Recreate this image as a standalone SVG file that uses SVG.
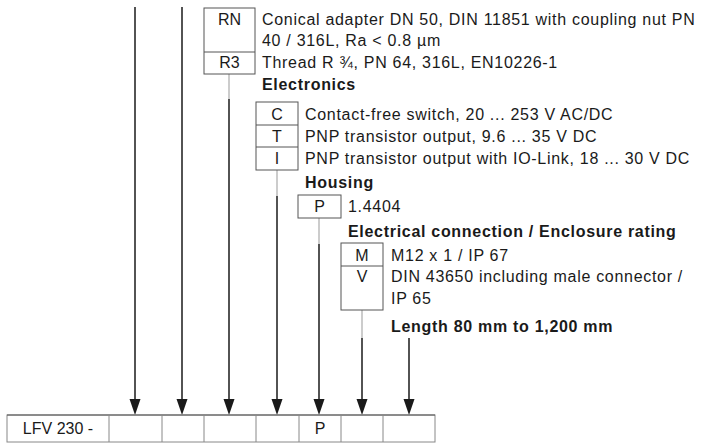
<svg xmlns="http://www.w3.org/2000/svg" width="708" height="445" viewBox="0 0 708 445">
<defs>
<style>
text{font-family:"Liberation Sans",Arial,sans-serif;font-size:16px;fill:#1a1a1a;letter-spacing:0.7px}
.b{font-weight:bold}
.c{text-anchor:middle;letter-spacing:0}
.box{fill:#fff;stroke:#555;stroke-width:1}
.cell{fill:#fff;stroke:#888;stroke-width:1}
.k{stroke:#1a1a1a;stroke-width:1.5;fill:none}
.g{stroke:#999;stroke-width:1;fill:none}
</style>
<marker id="ah" markerUnits="userSpaceOnUse" markerWidth="12" markerHeight="16" refX="6" refY="16" orient="auto-start-reverse" viewBox="0 0 12 16">
<path d="M0.5,0 L11.5,0 L6,16 Z" fill="#1a1a1a"/>
</marker>
</defs>
<rect width="708" height="445" fill="#fff"/>

<g id="connectors">
<line class="k" x1="135" y1="7" x2="135" y2="399"/>
<path d="M129.5,399 L140.5,399 L135,415 Z" fill="#1a1a1a"/>
<line class="k" x1="182" y1="7" x2="182" y2="399"/>
<path d="M176.5,399 L187.5,399 L182,415 Z" fill="#1a1a1a"/>
<line class="g" x1="229" y1="74" x2="229" y2="99"/>
<line class="k" x1="229" y1="99" x2="229" y2="399"/>
<path d="M223.5,399 L234.5,399 L229,415 Z" fill="#1a1a1a"/>
<line class="g" x1="277" y1="170" x2="277" y2="196"/>
<line class="k" x1="277" y1="196" x2="277" y2="399"/>
<path d="M271.5,399 L282.5,399 L277,415 Z" fill="#1a1a1a"/>
<line class="g" x1="319" y1="218" x2="319" y2="244"/>
<line class="k" x1="319" y1="244" x2="319" y2="399"/>
<path d="M313.5,399 L324.5,399 L319,415 Z" fill="#1a1a1a"/>
<line class="g" x1="362" y1="310" x2="362" y2="338"/>
<line class="k" x1="362" y1="338" x2="362" y2="399"/>
<path d="M356.5,399 L367.5,399 L362,415 Z" fill="#1a1a1a"/>
<line class="k" x1="409" y1="338" x2="409" y2="399"/>
<path d="M403.5,399 L414.5,399 L409,415 Z" fill="#1a1a1a"/>
</g>

<g id="process-connection">
<rect class="box" x="204" y="8" width="51" height="66"/>
<line class="box" x1="204" y1="52" x2="255" y2="52"/>
<text class="c" x="229.5" y="25">RN</text>
<text class="c" x="229.5" y="68">R3</text>
<text x="262" y="25">Conical adapter DN 50, DIN 11851 with coupling nut PN</text>
<text x="262" y="46">40 / 316L, Ra &lt; 0.8 µm</text>
<text x="262" y="68">Thread R ¾, PN 64, 316L, EN10226-1</text>
</g>

<g id="electronics">
<text class="b" x="262" y="90">Electronics</text>
<rect class="box" x="256" y="102" width="42" height="68"/>
<line class="box" x1="256" y1="125" x2="298" y2="125"/>
<line class="box" x1="256" y1="147" x2="298" y2="147"/>
<text class="c" x="277" y="119.5">C</text>
<text class="c" x="277" y="141.5">T</text>
<text class="c" x="277" y="164">I</text>
<text x="305" y="119.5">Contact-free switch, 20 ... 253 V AC/DC</text>
<text x="305" y="141.5">PNP transistor output, 9.6 ... 35 V DC</text>
<text x="305" y="164">PNP transistor output with IO-Link, 18 ... 30 V DC</text>
</g>

<g id="housing">
<text class="b" x="305" y="188">Housing</text>
<rect class="box" x="298" y="195" width="43" height="23"/>
<text class="c" x="319.5" y="212">P</text>
<text x="348" y="212">1.4404</text>
</g>

<g id="electrical-connection">
<text class="b" x="348" y="237">Electrical connection / Enclosure rating</text>
<rect class="box" x="341" y="243" width="42" height="67"/>
<line class="box" x1="341" y1="266" x2="383" y2="266"/>
<text class="c" x="362" y="260.5">M</text>
<text class="c" x="362" y="282">V</text>
<text x="391" y="260.5">M12 x 1 / IP 67</text>
<text x="391" y="282">DIN 43650 including male connector /</text>
<text x="391" y="304">IP 65</text>
</g>

<g id="length">
<text class="b" x="391" y="332">Length 80 mm to 1,200 mm</text>
</g>

<g id="type-code">
<rect class="cell" x="7" y="415" width="428" height="27"/>
<line class="k" x1="7" y1="415" x2="435" y2="415" style="stroke:#555;stroke-width:1"/>
<line class="cell" x1="109" y1="415" x2="109" y2="442"/>
<line class="cell" x1="162" y1="415" x2="162" y2="442"/>
<line class="cell" x1="204" y1="415" x2="204" y2="442"/>
<line class="cell" x1="256" y1="415" x2="256" y2="442"/>
<line class="cell" x1="299" y1="415" x2="299" y2="442"/>
<line class="cell" x1="341" y1="415" x2="341" y2="442"/>
<line class="cell" x1="383" y1="415" x2="383" y2="442"/>
<text class="c" x="58" y="434">LFV 230 -</text>
<text class="c" x="320" y="434">P</text>
</g>
</svg>
